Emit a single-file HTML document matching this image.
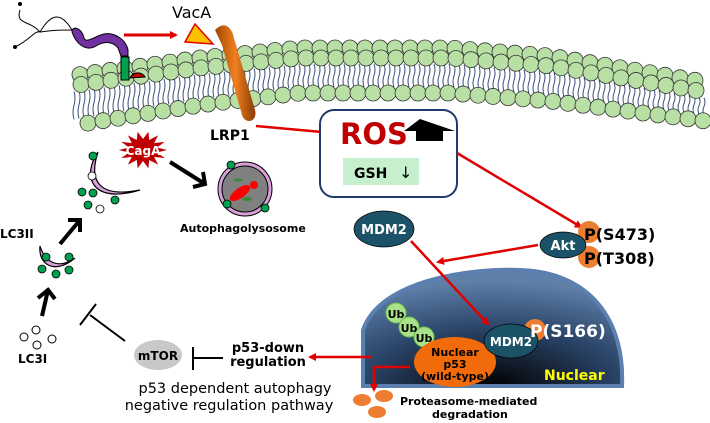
<!DOCTYPE html>
<html><head><meta charset="utf-8"><style>
html,body{margin:0;padding:0;background:#fff;width:710px;height:423px;overflow:hidden}
svg{display:block}
text{font-family:"DejaVu Sans","Liberation Sans",sans-serif}
</style></head><body>
<svg id="s" width="710" height="423" viewBox="0 0 710 423" xmlns="http://www.w3.org/2000/svg">
<defs>
<radialGradient id="nuc" cx="0.5" cy="1" r="0.9">
<stop offset="0" stop-color="#000"/><stop offset="0.55" stop-color="#2a4468"/><stop offset="1" stop-color="#5e7fa8"/></radialGradient>
<marker id="ra" markerWidth="8" markerHeight="8" refX="6" refY="4" orient="auto" markerUnits="userSpaceOnUse"><path d="M0,0 L8,4 L0,8 z" fill="#e00000"/></marker>
<linearGradient id="rod" x1="0" x2="1"><stop offset="0" stop-color="#a04500"/><stop offset="0.5" stop-color="#f08020"/><stop offset="1" stop-color="#8a3a00"/></linearGradient>
</defs>
<g id="mem"></g>
<path d="M20,10 C15,25 30,20 40,32 C50,15 60,10 72,30" fill="none" stroke="#000" stroke-width="1"/>
<path d="M15,47 C30,40 35,30 40,32 C55,30 60,30 72,30" fill="none" stroke="#000" stroke-width="1"/>
<circle cx="20" cy="4" r="2"/><circle cx="15" cy="47" r="2"/>
<path d="M72,32 C72,25 82,28 84,38 C86,44 95,36 104,34 C115,32 126,40 128,50 L128,56 L121,56 L118,48 C112,40 102,42 96,46 C86,52 76,44 72,32z" fill="#7030a0" stroke="#000" stroke-width="1"/>
<rect x="121" y="57" width="8" height="23" fill="#00a050" stroke="#000" stroke-width="1"/>
<path d="M130,78 A8,7 0 0 1 145,77 z" fill="#c00000" stroke="#000" stroke-width="1"/>
<line x1="124" y1="35" x2="176" y2="35" stroke="#e00000" stroke-width="3" marker-end="url(#ra)"/>
<text x="172" y="18" font-size="16">VacA</text>
<polygon points="185,42 195,24 213,44" fill="#ffc000" stroke="#e00000" stroke-width="1.5"/>
<path d="M215,30 C225,20 232,28 234,38 L255,110 C258,122 245,125 242,115 L222,45z" fill="url(#rod)"/>
<text x="210" y="140" font-size="14" font-weight="bold">LRP1</text>
<line x1="256" y1="126" x2="333" y2="133" stroke="#e00000" stroke-width="2.5" marker-end="url(#ra)"/>
<rect x="320" y="110" width="137" height="87" rx="14" fill="#fff" stroke="#1f3a6e" stroke-width="2"/>
<text x="340" y="144" font-size="29" font-weight="bold" fill="#c00000">ROS</text>
<polygon points="404,131 420,119 455,131 443,131 443,141 416,141 416,131" fill="#000"/>
<rect x="343" y="158" width="76" height="27" fill="#c6efce"/>
<text x="354" y="178" font-size="14" font-weight="bold">GSH</text>
<text x="399" y="178" font-size="16">↓</text>
<line x1="457" y1="153" x2="581" y2="227" stroke="#e00000" stroke-width="2.5" marker-end="url(#ra)"/>
<circle cx="589" cy="232" r="11" fill="#ed7d31"/><circle cx="589" cy="257" r="11" fill="#ed7d31"/>
<ellipse cx="563" cy="245" rx="23" ry="13" fill="#1b5268" stroke="#000" stroke-width="0.7"/>
<text x="563" y="250" font-size="13" font-weight="bold" fill="#fff" text-anchor="middle">Akt</text>
<text x="584" y="240" font-size="16" font-weight="bold">P(S473)</text>
<text x="584" y="264" font-size="16" font-weight="bold">P(T308)</text>
<line x1="538" y1="245" x2="438" y2="262" stroke="#e00000" stroke-width="2.5" marker-end="url(#ra)"/>
<ellipse cx="384" cy="229" rx="30" ry="18" fill="#1b5268" stroke="#000" stroke-width="0.7"/>
<text x="384" y="234" font-size="13" font-weight="bold" fill="#fff" text-anchor="middle">MDM2</text>
<path d="M363,386 L363,330 C380,280 470,268 520,270 C590,272 625,320 622,386 z" fill="url(#nuc)" stroke="#5b7fb0" stroke-width="4"/>
<line x1="411" y1="241" x2="488" y2="324" stroke="#e00000" stroke-width="2.5" marker-end="url(#ra)"/>
<circle cx="396" cy="313" r="10" fill="#a9e08a" stroke="#6cc04a"/><circle cx="409" cy="327" r="10" fill="#a9e08a" stroke="#6cc04a"/><circle cx="424" cy="337" r="10" fill="#a9e08a" stroke="#6cc04a"/>
<text x="396" y="318" font-size="11" font-weight="bold" text-anchor="middle">Ub</text>
<text x="409" y="332" font-size="11" font-weight="bold" text-anchor="middle">Ub</text>
<text x="424" y="342" font-size="11" font-weight="bold" text-anchor="middle">Ub</text>
<ellipse cx="455" cy="362" rx="41" ry="25" fill="#f26b0a"/>
<text x="455" y="356" font-size="11" font-weight="bold" text-anchor="middle">Nuclear</text>
<text x="455" y="368" font-size="11" font-weight="bold" text-anchor="middle">p53</text>
<text x="455" y="380" font-size="11" font-weight="bold" text-anchor="middle">(wild-type)</text>
<circle cx="535" cy="330" r="11" fill="#ed7d31"/>
<ellipse cx="511" cy="341" rx="27" ry="17" fill="#1b5268" stroke="#000" stroke-width="0.7"/>
<text x="511" y="346" font-size="12" font-weight="bold" fill="#fff" text-anchor="middle">MDM2</text>
<text x="530" y="337" font-size="17" font-weight="bold" fill="#fff">P(S166)</text>
<text x="544" y="380" font-size="14" font-weight="bold" fill="#ffff00">Nuclear</text>
<path d="M410,367 L374,367 L374,390" fill="none" stroke="#e00000" stroke-width="2.5" marker-end="url(#ra)"/>
<line x1="372" y1="357" x2="310" y2="357" stroke="#e00000" stroke-width="2.5" marker-end="url(#ra)"/>
<ellipse cx="362" cy="400" rx="9" ry="6" fill="#ed7d31"/><ellipse cx="384" cy="396" rx="9" ry="6" fill="#ed7d31"/><ellipse cx="377" cy="412" rx="9" ry="6" fill="#ed7d31"/>
<text x="400" y="405" font-size="11" font-weight="bold">Proteasome-mediated</text>
<text x="432" y="418" font-size="11" font-weight="bold">degradation</text>
<text x="268" y="352" font-size="13" font-weight="bold" text-anchor="middle">p53-down</text>
<text x="268" y="366" font-size="13" font-weight="bold" text-anchor="middle">regulation</text>
<line x1="223" y1="358" x2="193" y2="358" stroke="#000" stroke-width="2"/>
<line x1="193" y1="347" x2="193" y2="370" stroke="#000" stroke-width="2"/>
<ellipse cx="158" cy="355" rx="24" ry="15" fill="#c8c8c8"/>
<text x="158" y="360" font-size="12" font-weight="bold" text-anchor="middle">mTOR</text>
<line x1="125" y1="341" x2="90" y2="315" stroke="#000" stroke-width="2"/>
<line x1="80" y1="325" x2="96" y2="304" stroke="#000" stroke-width="2"/>
<text x="235" y="393" font-size="14.5" text-anchor="middle">p53 dependent autophagy</text>
<text x="229" y="410" font-size="14.5" text-anchor="middle">negative regulation pathway</text>
<g fill="#fff" stroke="#000" stroke-width="1"><circle cx="24" cy="337" r="4"/><circle cx="36" cy="330" r="4"/><circle cx="52" cy="339" r="4"/><circle cx="37" cy="345" r="4"/></g>
<text x="18" y="363" font-size="12" font-weight="bold">LC3I</text>
<text x="0" y="238" font-size="12" font-weight="bold">LC3II</text>
<g stroke="#000" stroke-width="4" fill="none"><path d="M42,316 L48,290 M38,298 L48,290 L55,299"/><path d="M60,244 L80,220 M68,220 L80,220 L80,232"/><path d="M170,162 L205,184 M203,172 L205,184 L193,187"/></g>
<path d="M40,246 C38,265 55,275 75,258 C58,270 45,262 40,246z" fill="#d8a0d8" stroke="#000" stroke-width="1.2"/>
<g fill="#00a050" stroke="#000" stroke-width="0.8"><circle cx="46" cy="257" r="4"/><circle cx="69" cy="257" r="4"/><circle cx="56" cy="274" r="4"/><circle cx="69" cy="270" r="4"/><circle cx="42" cy="269" r="4"/></g>
<path d="M98,152 C82,175 90,205 140,190 C100,198 88,182 98,152z" fill="#d8a0d8" stroke="#000" stroke-width="1.2"/>
<g stroke="#000" stroke-width="0.8"><circle cx="93" cy="156" r="4" fill="#00a050"/><circle cx="92" cy="176" r="4" fill="#fff"/><circle cx="82" cy="192" r="4" fill="#00a050"/><circle cx="93" cy="193" r="4" fill="#00a050"/><circle cx="88" cy="205" r="4" fill="#00a050"/><circle cx="100" cy="209" r="4" fill="#fff"/><circle cx="115" cy="200" r="4" fill="#00a050"/></g>
<circle cx="245" cy="189" r="27" fill="#d8a0d8" stroke="#000"/><circle cx="245" cy="189" r="23" fill="#808080" stroke="#000"/>
<ellipse cx="240" cy="193" rx="12" ry="5" transform="rotate(-35 240 193)" fill="#f00"/><circle cx="254" cy="185" r="4" fill="#f00"/>
<ellipse cx="238" cy="180" rx="5" ry="1.5" fill="#3a8a3a"/><ellipse cx="247" cy="199" rx="5" ry="2" fill="#3a8a3a"/>
<g fill="#00a050" stroke="#000" stroke-width="0.8"><circle cx="231" cy="165" r="4"/><circle cx="227" cy="204" r="4"/><circle cx="265" cy="208" r="4"/></g>
<text x="180" y="232" font-size="11" font-weight="bold">Autophagolysosome</text>
<polygon id="star" fill="#c00000"/>
<text x="143" y="155" font-size="12" font-weight="bold" fill="#fff" text-anchor="middle">CagA</text>
</svg>
<script>
(function(){
var NS="http://www.w3.org/2000/svg",m=document.getElementById("mem");
function lerp(p,x){for(var i=0;i<p.length-1;i++){if(x<=p[i+1][0]){var t=(x-p[i][0])/(p[i+1][0]-p[i][0]);return p[i][1]+t*(p[i+1][1]-p[i][1]);}}return p[p.length-1][1];}
var tp=[[70,86],[200,68],[300,58],[450,58],[550,66],[705,92]];
var bt=[[70,126],[200,105],[300,93],[450,93],[550,101],[705,121]];
function c(x,y){var e=document.createElementNS(NS,"circle");e.setAttribute("cx",x);e.setAttribute("cy",y);e.setAttribute("r",8);e.setAttribute("fill","#b8e0a4");e.setAttribute("stroke","#333");e.setAttribute("stroke-width","0.8");m.appendChild(e);}
function l(x,y1,y2){var e=document.createElementNS(NS,"path");var d=y2-y1;e.setAttribute("d","M"+x+","+y1+" q2,"+(d/4)+" 0,"+(d/2)+" q-2,"+(d/4)+" 0,"+(d/2));e.setAttribute("stroke","#3a4f7a");e.setAttribute("fill","none");m.appendChild(e);}
var x;
for(x=74;x<=705;x+=5){l(x,lerp(tp,x)+6,lerp(bt,x)-6);}
for(x=80;x<=705;x+=15)c(x,lerp(tp,x)-10);
for(x=74;x<=700;x+=15)c(x+7,lerp(tp,x+7));
for(x=88;x<=705;x+=15)c(x,lerp(bt,x));
var pts=[];for(var i=0;i<28;i++){var a=i*Math.PI/14,r=i%2?13:22;pts.push((143+Math.cos(a)*r*1.1)+","+(150+Math.sin(a)*r*0.85));}
document.getElementById("star").setAttribute("points",pts.join(" "));
})();
</script>
</body></html>
